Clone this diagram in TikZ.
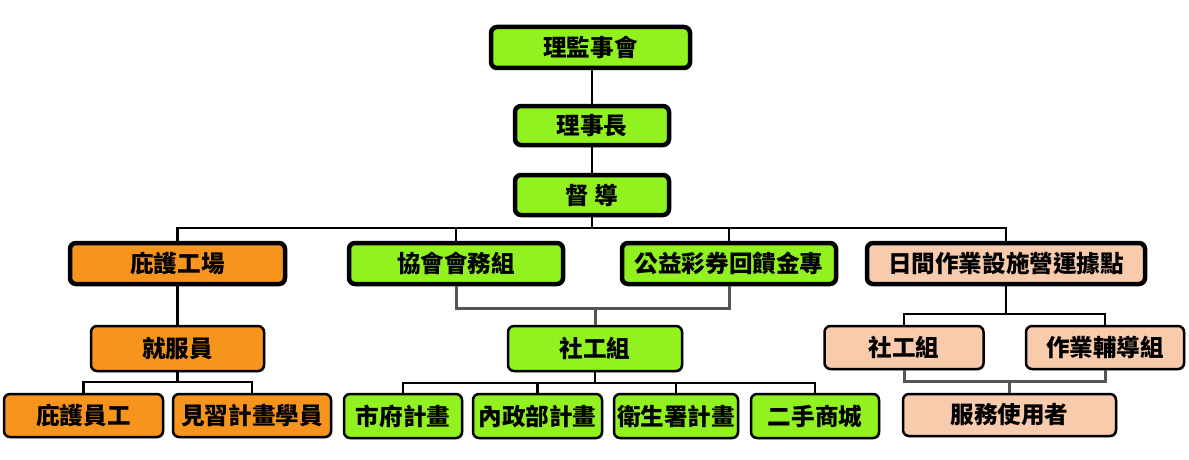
\documentclass[tikz,border=0pt]{standalone}
\usepackage{fontspec}
\newfontfamily\cjkfont{Noto Sans CJK TC}
\usetikzlibrary{shadows}

\definecolor{unitgreen}{RGB}{146,242,32}
\definecolor{unitorange}{RGB}{247,148,30}
\definecolor{unitpeach}{RGB}{248,203,173}
\definecolor{linkgray}{RGB}{85,85,85}

\newcommand{\boxfont}{\cjkfont\bfseries\fontsize{23.6pt}{25pt}\selectfont}

\begin{document}
\begin{tikzpicture}[x=1pt, y=-1pt,
    unit/.style={draw=black, rounded corners=6pt, inner sep=0pt, font=\boxfont,
        drop shadow={shadow xshift=1.5pt, shadow yshift=-1.5pt, opacity=0.25}},
    head/.style={unit, line width=4.5pt},
    member/.style={unit, line width=2.5pt},
    link/.style={line width=2.5pt},
    graylink/.style={line width=3pt, draw=linkgray}]
    \useasboundingbox (0,0) rectangle (1189,460);

    % Define bus levels
    \coordinate (topbus) at (0,228);
    \coordinate (jobbus) at (0,382);
    \coordinate (midbus) at (0,308);
    \coordinate (prjbus) at (0,383);
    \coordinate (daybus) at (0,314);
    \coordinate (usrbus) at (0,381);

    % Top of the chart
    \node[head, fill=unitgreen, minimum width=199, minimum height=41] (board) at (590.5,47.5) {理監事會};
    \node[head, fill=unitgreen, minimum width=154, minimum height=39] (chair) at (592,125.5) {理事長};
    \node[head, fill=unitgreen, minimum width=154, minimum height=40] (super) at (592,195) {督 導};

    % Second level
    \node[head, fill=unitorange, minimum width=215, minimum height=41] (shelter) at (177.5,263.5) {庇護工場};
    \node[head, fill=unitgreen, minimum width=214, minimum height=41] (affairs) at (456,263.5) {協會會務組};
    \node[head, fill=unitgreen, minimum width=214, minimum height=41] (lottery) at (729,263.5) {公益彩券回饋金專};
    \node[head, fill=unitpeach, minimum width=278, minimum height=41] (daycare) at (1006,263.5) {日間作業設施營運據點};

    % Third level
    \node[member, fill=unitorange, minimum width=173, minimum height=45] (jobcoach) at (177.5,348.5) {就服員};
    \node[member, fill=unitgreen, minimum width=174, minimum height=45] (social) at (595,348.5) {社工組};
    \node[member, fill=unitpeach, minimum width=159, minimum height=43] (daysocial) at (904,347.5) {社工組};
    \node[member, fill=unitpeach, minimum width=158, minimum height=43] (guidance) at (1105,347.5) {作業輔導組};

    % Bottom row
    \node[member, fill=unitorange, minimum width=159, minimum height=43] (workers) at (83.5,415.5) {庇護員工};
    \node[member, fill=unitorange, minimum width=158, minimum height=43] (interns) at (252,415.5) {見習計畫學員};
    \node[member, fill=unitgreen, minimum width=118, minimum height=44] (city) at (403,416) {市府計畫};
    \node[member, fill=unitgreen, minimum width=129, minimum height=44] (interior) at (537.5,416) {內政部計畫};
    \node[member, fill=unitgreen, minimum width=124, minimum height=44] (health) at (676,416) {衛生署計畫};
    \node[member, fill=unitgreen, minimum width=128, minimum height=44] (shop) at (815,416) {二手商城};
    \node[member, fill=unitpeach, minimum width=213, minimum height=42] (users) at (1009.5,415) {服務使用者};

    % Draw connectors between the boxes
    \draw[link] (board.south -| chair.north) -- (chair.north);
    \draw[link] (chair.south) -- (super.north);
    \draw[link] (super.south) -- (super.south |- topbus);
    \draw[link] (shelter.north) |- (daycare.north |- topbus) -- (daycare.north);
    \draw[link] (affairs.north) -- (affairs.north |- topbus);
    \draw[link] (lottery.north) -- (lottery.north |- topbus);

    \draw[link] (shelter.south) -- (jobcoach.north);
    \draw[link] (jobcoach.south) -- (jobcoach.south |- jobbus);
    \draw[link] (workers.north) |- (interns.north |- jobbus) -- (interns.north);

    \draw[graylink] (affairs.south) |- (lottery.south |- midbus) -- (lottery.south);
    \draw[graylink] (social.north) -- (social.north |- midbus);

    \draw[link] (social.south) -- (social.south |- prjbus);
    \draw[link] (city.north) |- (shop.north |- prjbus) -- (shop.north);
    \draw[link] (interior.north) -- (interior.north |- prjbus);
    \draw[link] (health.north) -- (health.north |- prjbus);

    \draw[link] (daycare.south) -- (daycare.south |- daybus);
    \draw[link] (daysocial.north) |- (guidance.north |- daybus) -- (guidance.north);

    \draw[graylink] (daysocial.south) |- (guidance.south |- usrbus) -- (guidance.south);
    \draw[graylink] (users.north) -- (users.north |- usrbus);

\end{tikzpicture}
\end{document}
